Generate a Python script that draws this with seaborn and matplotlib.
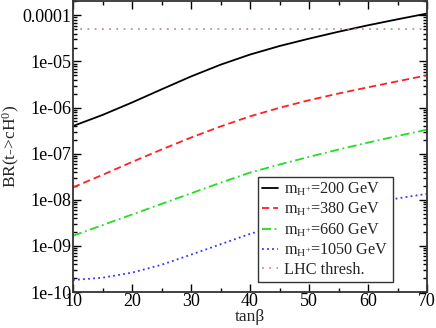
import numpy as np
import pandas as pd
import matplotlib
matplotlib.use("Agg")
import matplotlib.pyplot as plt
import seaborn as sns
from matplotlib.ticker import FixedLocator, FixedFormatter, LogLocator, NullFormatter, MultipleLocator

# ---- data (log10 of BR) ----
tanb = [10, 15, 20, 25, 30, 35, 40, 45, 50, 55, 60, 65, 70]
log_br_200 = [-6.40, -6.16, -5.89, -5.605, -5.325, -5.07, -4.85, -4.665, -4.505, -4.355, -4.215, -4.085, -3.96]
log_br_380 = [-7.73, -7.46, -7.18, -6.91, -6.65, -6.41, -6.19, -6.005, -5.84, -5.695, -5.56, -5.43, -5.30]
log_br_660 = [-8.78, -8.55, -8.32, -8.09, -7.86, -7.63, -7.41, -7.235, -7.07, -6.91, -6.76, -6.615, -6.48]
log_br_1050 = [-9.74, -9.69, -9.58, -9.41, -9.19, -8.965, -8.74, -8.55, -8.38, -8.225, -8.085, -7.97, -7.87]
lhc_x = [10, 70]
lhc_thresh = [5e-5, 5e-5]

series_labels = [r"m$_{\mathrm{H}^{+}}$=200 GeV", r"m$_{\mathrm{H}^{+}}$=380 GeV",
                 r"m$_{\mathrm{H}^{+}}$=660 GeV", r"m$_{\mathrm{H}^{+}}$=1050 GeV"]
ytick_vals = [1e-10, 1e-9, 1e-8, 1e-7, 1e-6, 1e-5, 1e-4]
ytick_labels = ["1e-10", "1e-09", "1e-08", "1e-07", "1e-06", "1e-05", "0.0001"]
xticks = [10, 20, 30, 40, 50, 60, 70]

sns.set_style("ticks")
plt.rcParams['font.family'] = ['Liberation Serif', 'DejaVu Serif']
plt.rcParams['mathtext.fontset'] = 'custom'
plt.rcParams['mathtext.rm'] = 'Liberation Serif'
plt.rcParams['mathtext.it'] = 'Liberation Serif:italic'

fig = plt.figure(figsize=(4.36, 3.28), dpi=100)
ax = fig.add_axes([73/436, 1 - 292/328, (427-73)/436, (292-1)/328])

styles = [dict(color="black", linestyle="-"),
          dict(color="#ff2020", linestyle=(0, (4, 2.2))),
          dict(color="#22dd22", linestyle=(0, (5, 2, 1, 2))),
          dict(color="#3333ff", linestyle=(0, (1, 1.8)))]
all_series = [log_br_200, log_br_380, log_br_660, log_br_1050]
for vals, lab, st in zip(all_series, series_labels, styles):
    df = pd.DataFrame({"tanb": tanb, "br": 10.0 ** np.array(vals)})
    sns.lineplot(data=df, x="tanb", y="br", ax=ax, label=lab, linewidth=1.3, **st)

dfl = pd.DataFrame({"tanb": lhc_x, "br": lhc_thresh})
sns.lineplot(data=dfl, x="tanb", y="br", ax=ax, label="LHC thresh.", color="#c89090",
             linewidth=1.3, linestyle=(0, (1, 3)))

ax.set_yscale("log")
ax.set_xlim(10, 70)
ax.set_ylim(1e-10, 2.05e-4)
ax.yaxis.set_major_locator(FixedLocator(ytick_vals))
ax.yaxis.set_major_formatter(FixedFormatter(ytick_labels))
ax.yaxis.set_minor_locator(LogLocator(base=10, subs=np.arange(2, 10)))
ax.yaxis.set_minor_formatter(NullFormatter())
ax.xaxis.set_major_locator(FixedLocator(xticks))
ax.xaxis.set_minor_locator(MultipleLocator(5))

ax.tick_params(which="both", direction="in", top=True, right=True, labelsize=13, colors="black")
ax.tick_params(which="major", length=6, width=1)
ax.tick_params(which="minor", length=3, width=1)
ax.tick_params(axis="y", pad=1)
ax.tick_params(axis="x", pad=1)
for s in ax.spines.values():
    s.set_linewidth(1.3)
    s.set_color("#333333")

ax.set_xlabel("tanβ", fontsize=12.5)
ax.xaxis.set_label_coords(0.5, (292 - 309) / 291)
ax.set_ylabel(r"BR(t->cH$^{0}$)", fontsize=12.5)
ax.yaxis.set_label_coords(-(73 - 22) / 354, 0.5)

leg = ax.legend(loc="lower right", bbox_to_anchor=((393-73)/354, (292-282)/291), fontsize=11.7,
                frameon=True, fancybox=False, edgecolor="#333333", framealpha=1,
                handlelength=1.0, handletextpad=0.4, borderpad=0.25, labelspacing=0.18,
                borderaxespad=0)
leg.get_frame().set_linewidth(1.0)

fig.savefig("out.png", dpi=100)
